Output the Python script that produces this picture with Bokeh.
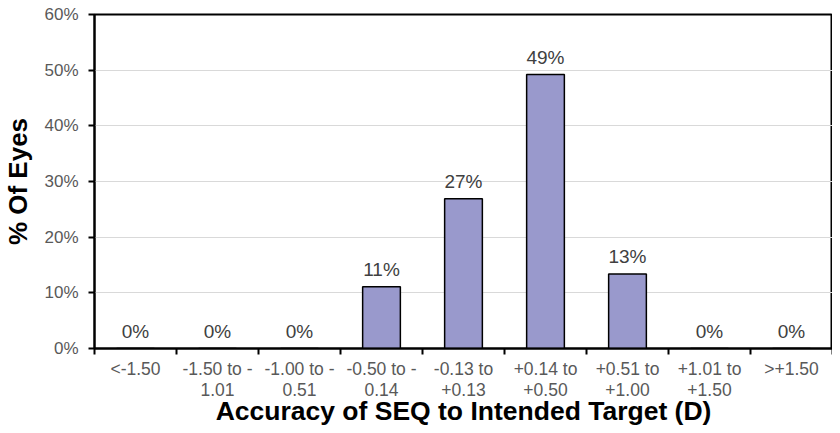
from bokeh.plotting import figure
from bokeh.models import Range1d, FixedTicker, ColumnDataSource
from bokeh.embed import file_html
from bokeh.resources import INLINE
from bokeh.core.properties import value

categories = ["<-1.50", "-1.50 to -\n1.01", "-1.00 to -\n0.51", "-0.50 to -\n0.14",
              "-0.13 to\n+0.13", "+0.14 to\n+0.50", "+0.51 to\n+1.00", "+1.01 to\n+1.50", ">+1.50"]
percent_eyes = [0, 0, 0, 11.1, 26.9, 49.2, 13.4, 0, 0]
labels = ["0%", "0%", "0%", "11%", "27%", "49%", "13%", "0%", "0%"]
y_ticks = [0, 10, 20, 30, 40, 50, 60]

n = len(categories)
centers = [i + 0.5 for i in range(n)]
bounds = [float(i) for i in range(n + 1)]

src = ColumnDataSource(dict(x=centers, y=percent_eyes, lab=labels))

FONT = "Liberation Sans"

p = figure(width=832, height=432, output_backend="svg", toolbar_location=None,
           x_range=Range1d(0, n), y_range=Range1d(0, 60),
           min_border_left=84, min_border_top=14, min_border_bottom=84, min_border_right=0)

p.vbar(x="x", top="y", width=0.46, bottom=0, source=src,
       fill_color="#9999CC", line_color="black", line_width=1.5)
p.text(x="x", y="y", text="lab", source=src, text_align="center", text_baseline="bottom",
       y_offset=-7, text_font=value(FONT), text_font_size="19px", text_color="#404040")

p.outline_line_color = "black"
p.outline_line_width = 2
p.xgrid.grid_line_color = None
p.ygrid.grid_line_color = "#D9D9D9"
p.ygrid.grid_line_width = 1.2

# x axis
xa = p.xaxis[0]
xa.ticker = FixedTicker(ticks=centers, minor_ticks=bounds)
xa.major_label_overrides = {c: lab for c, lab in zip(centers, categories)}
xa.major_tick_line_color = None
xa.minor_tick_line_color = "black"
xa.minor_tick_line_width = 2
xa.minor_tick_out = 6
xa.minor_tick_in = 0
xa.axis_line_color = "black"
xa.axis_line_width = 2
xa.major_label_text_font = FONT
xa.major_label_text_font_size = "17.5px"
xa.major_label_text_color = "#595959"
xa.major_label_text_line_height = 1.05
xa.major_label_standoff = 4
xa.axis_label = "Accuracy of SEQ to Intended Target (D)"
xa.axis_label_text_font = FONT
xa.axis_label_text_font_size = "26.5px"
xa.axis_label_text_font_style = "bold"
xa.axis_label_text_color = "black"
xa.axis_label_standoff = -7

# y axis
ya = p.yaxis[0]
ya.ticker = FixedTicker(ticks=y_ticks, minor_ticks=[])
ya.major_label_overrides = {t: f"{t}%" for t in y_ticks}
ya.major_tick_line_color = "black"
ya.major_tick_line_width = 2
ya.major_tick_out = 6
ya.major_tick_in = 0
ya.axis_line_color = "black"
ya.axis_line_width = 2
ya.major_label_text_font = FONT
ya.major_label_text_font_size = "17px"
ya.major_label_text_color = "#595959"
ya.major_label_standoff = 10
ya.axis_label = "% Of Eyes"
ya.axis_label_text_font = FONT
ya.axis_label_text_font_size = "26px"
ya.axis_label_text_font_style = "bold"
ya.axis_label_text_color = "black"
ya.axis_label_standoff = 8

open("out.html", "w").write(file_html(p, INLINE))
